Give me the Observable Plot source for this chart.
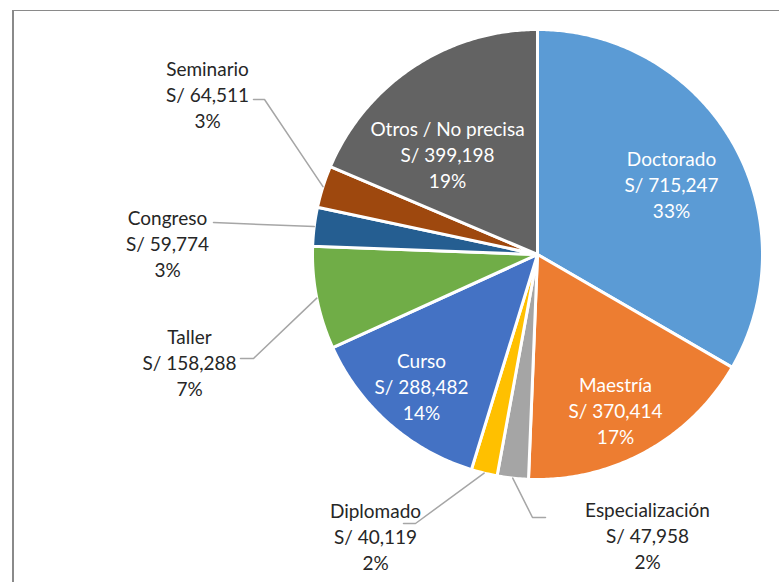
<!DOCTYPE html>
<html><head><meta charset="utf-8">
<script src="https://cdn.jsdelivr.net/npm/d3@7"></script>
<script src="https://cdn.jsdelivr.net/npm/@observablehq/plot@0.6"></script>
<style>
html,body{margin:0;padding:0;background:#fff;}
#wrap{position:relative;width:779px;height:582px;overflow:hidden;}
#frame{position:absolute;left:12px;top:10px;width:800px;height:600px;border-left:2px solid #8a8a8a;border-top:1px solid #8a8a8a;}
#chart{position:absolute;left:0;top:0;}
</style></head><body>
<div id="wrap"><div id="frame"></div><div id="chart"></div></div>
<script>
// ---- data ----
const categories = ["Doctorado","Maestría","Especialización","Diplomado","Curso","Taller","Congreso","Seminario","Otros / No precisa"];
const amounts = [715247, 370414, 47958, 40119, 288482, 158288, 59774, 64511, 399198];
const percentLabels = ["33%","17%","2%","2%","14%","7%","3%","3%","19%"];
const sliceColors = ["#5B9BD5","#ED7D31","#A5A5A5","#FFC000","#4472C4","#70AD47","#255E91","#9E480E","#636363"];
const insideLabel = [true,true,false,false,true,false,false,false,true];

// ---- layout (offsets from the pie centre, pixels, y downward) ----
const labelOffsets = [[134,-71],[78,155],[110,280],[-162,281],[-116,131],[-348,107],[-370,-12],[-330,-161],[-90,-101]];
const leaderStarts = {
  "Seminario": [[-284,-155],[-273,-155]],
  "Congreso": [[-324,-32]],
  "Taller": [[-297,104],[-284,104]],
  "Diplomado": [[-134,269],[-122,269]],
  "Especialización": [[8,263],[-5,263]]
};
const R = 224;

// ---- build geometry from the data ----
const arcs = d3.pie().sort(null).value(d => d)(amounts);
const slicePts = [];
arcs.forEach((a, i) => {
  const n = Math.max(4, Math.ceil((a.endAngle - a.startAngle) / 0.01));
  slicePts.push({name: categories[i], x: 0, y: 0});
  for (let k = 0; k <= n; k++) {
    const t = a.startAngle + (a.endAngle - a.startAngle) * k / n;
    slicePts.push({name: categories[i], x: (R + 1) * Math.sin(t), y: (R + 1) * Math.cos(t)});
  }
  slicePts.push({name: categories[i], x: 0, y: 0});
});

const fmt = d3.format(",");
const labels = categories.map((c, i) => ({
  name: c,
  inside: insideLabel[i],
  x: labelOffsets[i][0],
  y: -labelOffsets[i][1],
  text: `${c}\nS/ ${fmt(amounts[i])}\n${percentLabels[i]}`
}));

const leaderPts = [];
categories.forEach((c, i) => {
  if (!leaderStarts[c]) return;
  leaderStarts[c].forEach(([dx, dy]) => leaderPts.push({name: c, x: dx, y: -dy}));
  const m = (arcs[i].startAngle + arcs[i].endAngle) / 2;
  leaderPts.push({name: c, x: (R + 1) * Math.sin(m), y: (R + 1) * Math.cos(m)});
});

const textOpts = {x: "x", y: "y", text: "text", fontSize: 19, lineHeight: 26 / 19, lineAnchor: "middle", textAnchor: "middle", fontFamily: "Lato"};

const chart = Plot.plot({
  width: 779,
  height: 582,
  margin: 0,
  x: {domain: [-537, 242], axis: null},
  y: {domain: [-328, 254], axis: null},
  color: {domain: categories, range: sliceColors},
  style: {fontFamily: "Lato", background: "transparent"},
  marks: [
    Plot.line(slicePts, {x: "x", y: "y", z: "name", fill: "name", stroke: "white", strokeWidth: 3, strokeLinejoin: "round"}),
    Plot.line(leaderPts, {x: "x", y: "y", z: "name", stroke: "#A6A6A6", strokeWidth: 1.5}),
    Plot.text(labels.filter(d => d.inside), {...textOpts, fill: "white"}),
    Plot.text(labels.filter(d => !d.inside), {...textOpts, fill: "#262626"})
  ]
});
document.getElementById("chart").appendChild(chart);
</script>
</body></html>
